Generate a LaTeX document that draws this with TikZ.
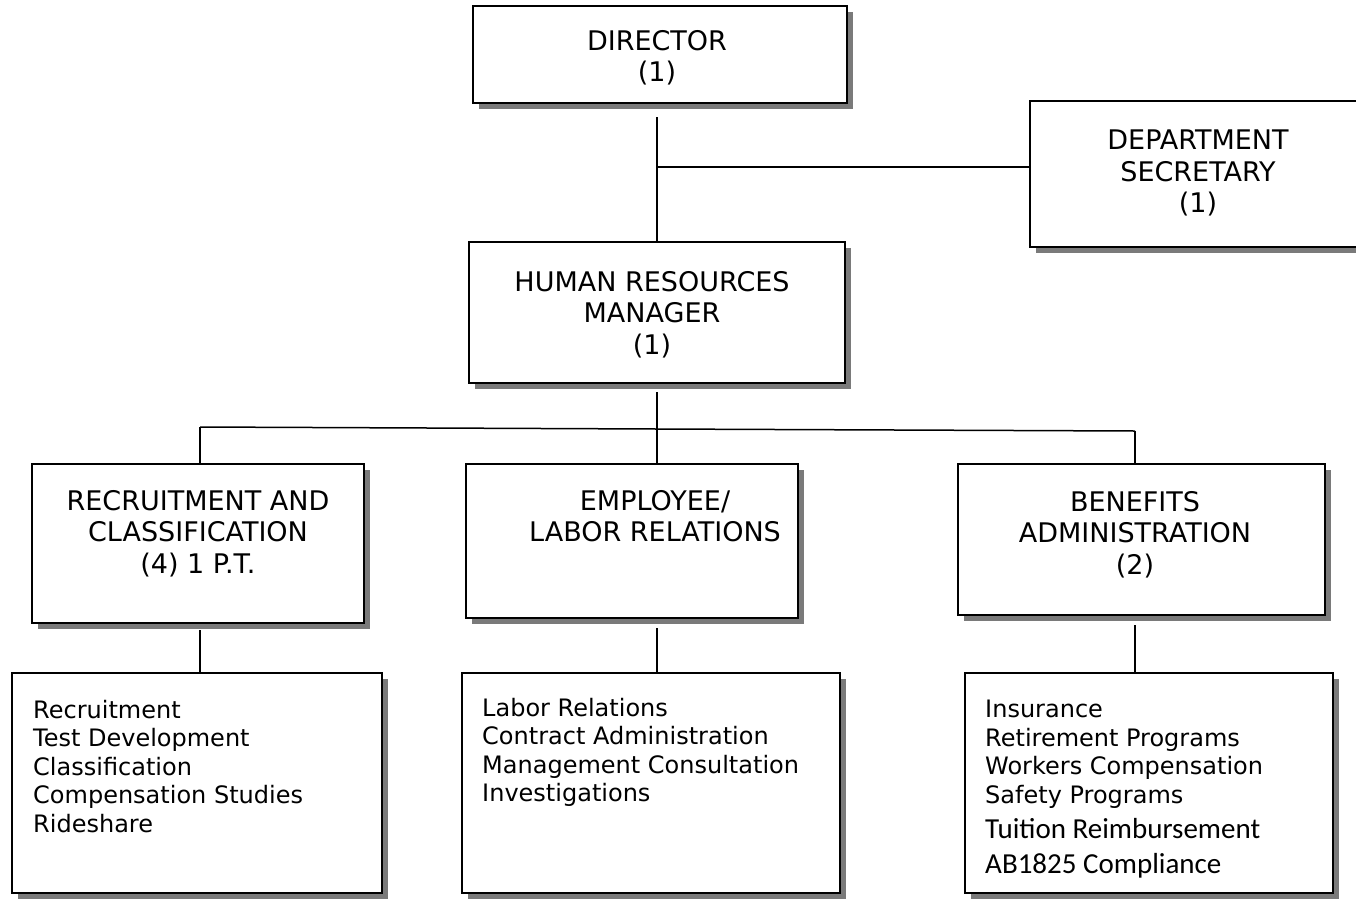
\documentclass[tikz,border=0pt]{standalone}
\usepackage{fontspec}
\setmainfont{DejaVu Sans}
\newfontfamily\carlito{Carlito}
\usetikzlibrary{shadows}
\tikzset{
  box/.style={draw, line width=1.5pt, fill=white, inner sep=0pt, outer sep=0pt,
    drop shadow={shadow xshift=6pt, shadow yshift=-6pt, fill=black!52, opacity=1}},
  uptext/.style={align=center, inner sep=0pt, anchor=north, font=\fontsize{27}{31.5}\selectfont},
  lowtext/.style={align=left, inner sep=0pt, anchor=north west, font=\fontsize{24}{28.5}\selectfont},
  cbtext/.style={align=left, inner sep=0pt, anchor=north west, font=\carlito\fontsize{29}{35}\selectfont},
  conn/.style={line width=1.5pt}
}
\begin{document}
\begin{tikzpicture}[x=1pt,y=-1pt]
\useasboundingbox (0,0) rectangle (1356,905);
% boxes
\node[box, minimum width=374pt, minimum height=97pt] (dir) at (660,54.5) {};
\node[box, minimum width=328pt, minimum height=146pt] (sec) at (1194,174) {};
\node[box, minimum width=376pt, minimum height=141pt] (hr) at (657,312.5) {};
\node[box, minimum width=332pt, minimum height=159pt] (rec) at (198,543.5) {};
\node[box, minimum width=332pt, minimum height=154pt] (emp) at (632,541) {};
\node[box, minimum width=367pt, minimum height=151pt] (ben) at (1141.5,539.5) {};
\node[box, minimum width=370pt, minimum height=220pt] (lowL) at (197,783) {};
\node[box, minimum width=378pt, minimum height=220pt] (lowM) at (651,783) {};
\node[box, minimum width=368pt, minimum height=220pt] (lowR) at (1149,783) {};
% texts
\node[uptext] (dirT) at (657,30) {DIRECTOR\\(1)};
\node[uptext] (secT) at (1198,130) {DEPARTMENT\\SECRETARY\\(1)};
\node[uptext] (hrT) at (652,271) {HUMAN RESOURCES\\MANAGER\\(1)};
\node[uptext] (recT) at (198,490) {RECRUITMENT AND\\CLASSIFICATION\\(4) 1 P.T.};
\node[uptext] (empT) at (655,490) {EMPLOYEE/\\LABOR RELATIONS};
\node[uptext] (benT) at (1135,491) {BENEFITS\\ADMINISTRATION\\(2)};
\node[lowtext] (lowLT) at (33,700) {Recruitment\\Test Development\\Classification\\Compensation Studies\\Rideshare};
\node[lowtext] (lowMT) at (482,698) {Labor Relations\\Contract Administration\\Management Consultation\\Investigations};
\node[lowtext] (lowRT) at (985,700) {Insurance\\Retirement Programs\\Workers Compensation\\Safety Programs};
\node[cbtext] (lowRT2) at (985,818) {Tuition Reimbursement\\AB1825 Compliance};
% connectors
\coordinate (j1) at (657,167);
\draw[conn, shorten <=14pt] (hr.north |- dir.south) -- (hr.north);
\draw[conn] (j1) -- (j1 -| sec.west);
\coordinate (bl) at (200,427);
\coordinate (bm) at (657,429);
\coordinate (br) at (1135,431);
\draw[conn, shorten <=9pt] (hr.south) -- (bm);
\draw[conn] (bl) -- (bm) -- (br);
\draw[conn] (bl) -- (bl |- rec.north);
\draw[conn] (bm) -- (bm |- emp.north);
\draw[conn] (br) -- (br |- ben.north);
\draw[conn, shorten <=7pt] (bl |- rec.south) -- (bl |- lowL.north);
\draw[conn, shorten <=10pt] (bm |- emp.south) -- (bm |- lowM.north);
\draw[conn, shorten <=10pt] (br |- ben.south) -- (br |- lowR.north);
\end{tikzpicture}
\end{document}
